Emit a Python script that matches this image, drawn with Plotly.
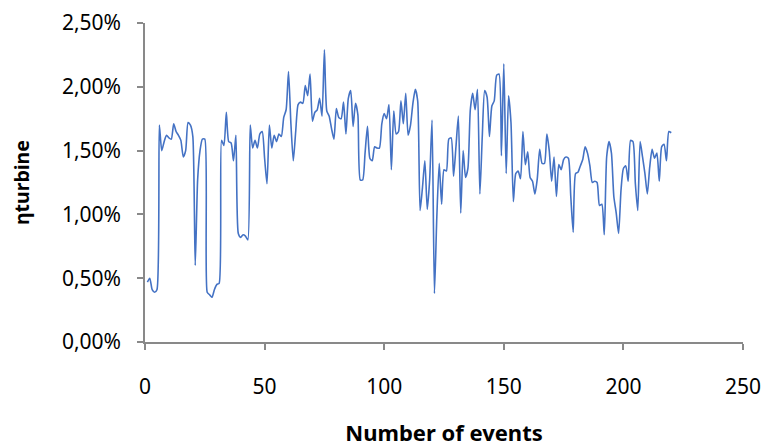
import plotly.graph_objects as go

events = list(range(1, 221))
eta_pct = [
    0.47, 0.50, 0.41, 0.39, 0.41, 1.70, 1.50, 1.57, 1.62, 1.60,
    1.59, 1.71, 1.65, 1.62, 1.58, 1.45, 1.50, 1.72, 1.70, 1.61,
    0.60, 1.27, 1.50, 1.59, 1.59, 0.39, 0.37, 0.35, 0.41, 0.45,
    0.46, 1.58, 1.54, 1.80, 1.57, 1.56, 1.42, 1.62, 0.85, 0.82,
    0.84, 0.83, 0.80, 1.70, 1.52, 1.58, 1.52, 1.63, 1.65, 1.44,
    1.24, 1.70, 1.52, 1.62, 1.57, 1.63, 1.61, 1.76, 1.82, 2.12,
    1.71, 1.42, 1.65, 1.86, 1.88, 1.87, 2.01, 1.93, 2.10, 1.73,
    1.80, 1.82, 1.91, 1.77, 2.29, 1.81, 1.77, 1.67, 1.59, 1.83,
    1.76, 1.75, 1.88, 1.63, 1.91, 1.97, 1.69, 1.87, 1.78, 1.27,
    1.27, 1.48, 1.69, 1.44, 1.42, 1.53, 1.52, 1.52, 1.71, 1.79,
    1.75, 1.86, 1.35, 1.81, 1.63, 1.65, 1.89, 1.71, 1.95, 1.62,
    1.70, 1.87, 1.98, 1.89, 1.03, 1.21, 1.42, 1.04, 1.27, 1.74,
    0.38, 0.98, 1.40, 1.08, 1.35, 1.34, 1.59, 1.60, 1.30, 1.53,
    1.77, 1.01, 1.50, 1.29, 1.36, 1.82, 1.95, 1.82, 1.98, 1.16,
    1.61, 1.97, 1.92, 1.61, 1.85, 1.89, 2.09, 2.10, 1.46, 2.18,
    1.32, 1.93, 1.72, 1.10, 1.32, 1.34, 1.28, 1.65, 1.39, 1.49,
    1.29, 1.26, 1.16, 1.28, 1.51, 1.40, 1.40, 1.63, 1.50, 1.26,
    1.45, 1.14, 1.39, 1.35, 1.43, 1.45, 1.44, 1.14, 0.86, 1.32,
    1.33, 1.38, 1.43, 1.53, 1.48, 1.38, 1.25, 1.26, 1.25, 1.07,
    1.08, 0.84, 1.45, 1.57, 1.48, 1.14, 1.01, 0.85, 1.19, 1.36,
    1.38, 1.26, 1.58, 1.57, 1.24, 1.03, 1.57, 1.45, 1.32, 1.16,
    1.37, 1.51, 1.44, 1.48, 1.26, 1.53, 1.55, 1.42, 1.65, 1.64,
]
eta = [v / 100 for v in eta_pct]

x_ticks = [0, 50, 100, 150, 200, 250]
y_ticks = [0.0, 0.005, 0.010, 0.015, 0.020, 0.025]
y_labels = ["0,00%", "0,50%", "1,00%", "1,50%", "2,00%", "2,50%"]

fig = go.Figure()
fig.add_trace(go.Scatter(
    x=events, y=eta, mode="lines",
    line=dict(color="#4472C4", width=1.6, shape="spline", smoothing=0.6),
    showlegend=False, hoverinfo="skip",
))

font = "Noto Sans, Open Sans, sans-serif"
axis_color = "#898989"
fig.update_layout(
    width=765, height=447,
    margin=dict(l=145, r=22, t=23, b=105, autoexpand=False),
    paper_bgcolor="white", plot_bgcolor="white",
    font=dict(family=font, size=21, color="#000000"),
    xaxis=dict(
        range=[0, 250], tickvals=x_ticks, showgrid=False, zeroline=False,
        showline=True, linecolor=axis_color, linewidth=1.5,
        ticks="outside", ticklen=6, tickcolor=axis_color, tickwidth=1.5,
        ticklabelstandoff=19, automargin=False,
        title=dict(text="<b>Number of events</b>", font=dict(size=22), standoff=29),
    ),
    yaxis=dict(
        range=[0, 0.025], tickvals=y_ticks, ticktext=y_labels,
        showgrid=False, zeroline=False,
        showline=True, linecolor=axis_color, linewidth=1.5,
        ticks="outside", ticklen=6, tickcolor=axis_color, tickwidth=1.5,
        ticklabelstandoff=12, automargin=False,
        title=dict(text="<b>ηturbine</b>", font=dict(size=19.5), standoff=27),
    ),
)

fig.write_html(
    "out.html",
    config={"displayModeBar": False},
    post_script="document.body.style.margin='0';document.body.style.overflow='hidden';",
)
